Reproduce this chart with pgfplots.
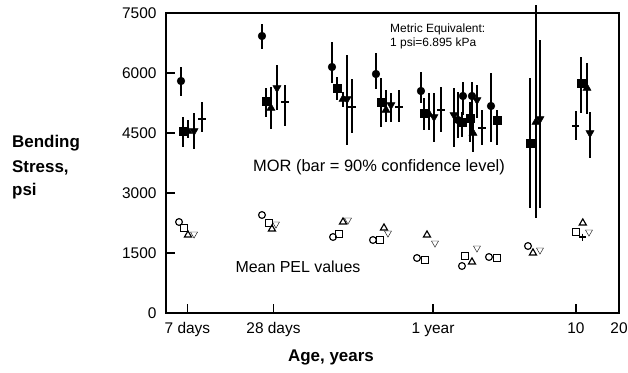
\documentclass[border=0pt]{standalone}
\usepackage{fontspec}
\setmainfont{Liberation Sans}
\usepackage{pgfplots}
\pgfplotsset{compat=1.18}
\pgfplotsset{
  mor/.style={only marks, black, mark options={solid, fill=black},
    error bars/y dir=both, error bars/y explicit, error bars/error mark=none,
    error bars/error bar style={line width=1.7bp}},
  pel/.style={only marks, black, mark options={solid, line width=1.15bp}},
}
\begin{document}
\begin{tikzpicture}[x=1bp,y=1bp]
\path[use as bounding box] (0,0) rectangle (628,372);
\begin{axis}[
  at={(166bp,59bp)}, anchor=south west,
  width=453bp, height=300bp, scale only axis,
  xmode=log, xmin=0.01358, xmax=20, ymin=0, ymax=7500,
  xtick={0.019165,0.07666,1,10,20},
  xticklabels={7 days,28 days,1 year,10,20},
  ytick={0,1500,3000,4500,6000,7500},
  xminorticks=false,
  tick align=inside, xtick pos=left, ytick pos=left,
  major tick length=9bp,
  axis line style={line width=1.3bp},
  every tick/.style={black, line width=1.3bp},
  ticklabel style={font=\fontsize{15.5}{18}\selectfont},
  /pgf/number format/assume math mode=true,
  /pgf/number format/1000 sep={},
  yticklabel style={xshift=-6bp},
  xticklabel style={yshift=-6bp},
  clip=false,
]
% MOR filled circles
\addplot[mor, mark=*, mark size=3.9bp] table[x=x,y=y,y error plus=ep,y error minus=em] {
x y ep em
0.01729 5800 350 375
0.0637 6925 300 325
0.1967 6150 625 400
0.3993 5975 525 375
0.824 5550 475 300
1.496 4825 700 450
1.621 5425 350 475
1.874 5425 350 900
2.545 5175 825 900
};
% MOR filled squares
\addplot[mor, mark=square*, mark size=3.8bp] table[x=x,y=y,y error plus=ep,y error minus=em] {
x y ep em
0.01786 4550 350 400
0.0679 5300 325 400
0.2133 5625 275 300
0.4327 5275 600 625
0.865 5000 375 425
1.595 4775 250 375
1.814 4875 400 600
2.803 4825 250 625
4.77 4250 1625 1625
10.83 5750 650 750
};
% MOR filled triangles up
\addplot[mor, mark=triangle*, mark size=4.7bp] table[x=x,y=y,y error plus=ep,y error minus=em] {
x y ep em
0.01935 4550 275 175
0.0736 5125 525 525
0.2349 5350 175 200
0.4690 5075 500 300
0.9375 4975 525 400
1.905 4500 375 475
5.25 4775 2925 2400
11.94 5625 625 650
};
% MOR filled triangles down
\addplot[mor, mark=triangle*, mark size=4.7bp, mark options={rotate=180}] table[x=x,y=y,y error plus=ep,y error minus=em] {
x y ep em
0.02133 4550 450 450
0.0811 5625 575 550
0.2506 5350 1100 1150
0.5083 5200 300 425
1.016 4900 600 625
1.403 4950 675 800
2.031 5325 375 450
5.60 4850 1975 2225
12.53 4500 525 625
};
% MOR plus
\addplot[mor, mark=+, mark size=3.6bp, mark options={line width=1.4bp}] table[x=x,y=y,y error plus=ep,y error minus=em] {
x y ep em
0.02425 4850 425 325
0.0923 5275 425 600
0.2716 5150 700 650
0.5781 5150 425 375
1.137 5075 575 550
2.201 4625 450 425
9.968 4675 375 350
};
% PEL open circles
\addplot[pel, mark=o, mark size=3.4bp] table[x=x,y=y] {
x y
0.01675 2275
0.0637 2450
0.2000 1900
0.3805 1825
0.773 1375
1.595 1175
2.464 1400
4.617 1675
};
% PEL open squares
\addplot[pel, mark=square, mark size=3.3bp] table[x=x,y=y] {
x y
0.01815 2125
0.0713 2250
0.2203 1975
0.426 1825
0.879 1325
1.674 1425
2.803 1375
9.968 2025
};
% PEL open triangles up
\addplot[pel, mark=triangle, mark size=4.1bp] table[x=x,y=y] {
x y
0.01935 1950
0.0748 2100
0.2349 2275
0.4543 2125
0.908 1950
1.874 1275
5.003 1500
11.16 2250
};
% PEL open triangles down
\addplot[pel, mark=triangle, mark size=4.1bp, mark options={rotate=180}] table[x=x,y=y] {
x y
0.02133 1975
0.0798 2225
0.2545 2325
0.4844 2000
1.033 1750
2.031 1625
5.601 1575
12.33 2025
};
% PEL plus
\addplot[pel, mark=+, mark size=3.5bp] table[x=x,y=y] {
x y
11.16 1900
};
\end{axis}
\node[font=\fontsize{16.5}{19}\selectfont] at (379,205) {MOR (bar = 90\% confidence level)};
\node[font=\fontsize{16}{19}\selectfont] at (298,105) {Mean PEL values};
\node[anchor=west, inner sep=0, font=\fontsize{12}{14}\selectfont] at (390,343) {Metric Equivalent:};
\node[anchor=west, inner sep=0, font=\fontsize{12}{14}\selectfont] at (390,329) {1 psi=6.895 kPa};
\node[anchor=west, inner sep=0, font=\bfseries\fontsize{17}{20}\selectfont] at (12,229) {Bending};
\node[anchor=west, inner sep=0, font=\bfseries\fontsize{17}{20}\selectfont] at (12,204) {Stress,};
\node[anchor=west, inner sep=0, font=\bfseries\fontsize{17}{20}\selectfont] at (12,181) {psi};
\node[font=\bfseries\fontsize{17}{20}\selectfont] at (331,15) {Age, years};
\end{tikzpicture}
\end{document}
